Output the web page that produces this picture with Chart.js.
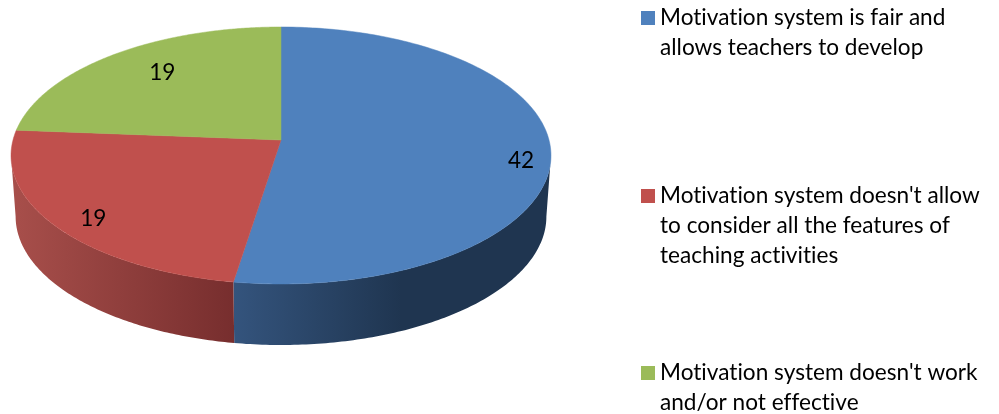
<!DOCTYPE html>
<html>
<head>
<meta charset="utf-8">
<title>Motivation system</title>
<script src="https://cdn.jsdelivr.net/npm/chart.js@4"></script>
<style>
    html, body { margin: 0; padding: 0; background: #fff; }
    canvas { display: block; }
</style>
</head>
<body>
<canvas id="motivationChart" width="999" height="414"></canvas>
<script>
const categories = [
    "Motivation system is fair and allows teachers to develop",
    "Motivation system doesn't allow to consider all the features of teaching activities",
    "Motivation system doesn't work and/or not effective"
];
const legendLines = [
    ["Motivation system is fair and", "allows teachers to develop"],
    ["Motivation system doesn't allow", "to consider all the features of", "teaching activities"],
    ["Motivation system doesn't work", "and/or not effective"]
];
const values = [42, 19, 19];
const sliceColors = ['#4f81bd', '#c0504d', '#9bbb59'];
const wallColors = [
    ['#34547d', '#1f3550', '#1f3550'],
    ['#a84f4b', '#772e2e', '#772e2e'],
    ['#7c9647', '#5c7034', '#5c7034']
];

const fontFamily = 'Lato, "Open Sans", sans-serif';

// the pie lies flat and is seen from the front, so the far half comes out shorter
const tilt = 0.1206;
const flatten = 0.945;
const wallDepth = 61;
const wallShrink = 0.983;
const labelSpots = [
    { reach: 0.89, nudge: 12 },
    { reach: 0.825, nudge: 9 },
    { reach: 0.71, nudge: -7 }
];
const legendTops = [25, 203, 380];

function project(arc, angle, reach) {
    const theta = angle + Math.PI / 2;
    const w = 1 + tilt * Math.cos(theta);
    return {
        x: arc.x + 2 * arc.outerRadius * reach * Math.sin(theta) / w,
        y: arc.y - flatten * arc.outerRadius * reach * Math.cos(theta) / w
    };
}

const pie3d = {
    id: 'pie3d',
    beforeDatasetsDraw(chart) {
        const ctx = chart.ctx;
        const arcs = chart.getDatasetMeta(0).data;
        const frontFrom = Math.acos(-tilt) - Math.PI / 2;
        const frontTo = 2 * Math.PI - Math.acos(-tilt) - Math.PI / 2;

        // side wall, only where a slice faces the viewer
        arcs.forEach((arc, i) => {
            const from = Math.max(arc.startAngle, frontFrom);
            const to = Math.min(arc.endAngle, frontTo);
            if (to <= from) return;
            const steps = 120;
            const cx = arc.x;
            const left = project(arc, to, 1).x;
            const right = project(arc, from, 1).x;
            const grad = ctx.createLinearGradient(left, 0, right, 0);
            grad.addColorStop(0, wallColors[i][0]);
            grad.addColorStop(i === 0 ? 0.53 : 1, wallColors[i][1]);
            grad.addColorStop(1, wallColors[i][2]);
            ctx.beginPath();
            for (let s = 0; s <= steps; s++) {
                const p = project(arc, from + (to - from) * s / steps, 1);
                ctx.lineTo(p.x, p.y);
            }
            for (let s = steps; s >= 0; s--) {
                const p = project(arc, from + (to - from) * s / steps, 1);
                ctx.lineTo(cx + (p.x - cx) * wallShrink, p.y + wallDepth);
            }
            ctx.closePath();
            ctx.fillStyle = grad;
            ctx.fill();
        });

        // top of the pie
        arcs.forEach((arc) => {
            const steps = 200;
            ctx.beginPath();
            ctx.moveTo(arc.x, arc.y);
            for (let s = 0; s <= steps; s++) {
                const p = project(arc, arc.startAngle + (arc.endAngle - arc.startAngle) * s / steps, 1);
                ctx.lineTo(p.x, p.y);
            }
            ctx.closePath();
            ctx.fillStyle = arc.options.backgroundColor;
            ctx.strokeStyle = arc.options.backgroundColor;
            ctx.lineWidth = 0.5;
            ctx.fill();
            ctx.stroke();
        });

        // value labels
        ctx.font = '22.6px ' + fontFamily;
        ctx.letterSpacing = '0.01px'; // keeps Lato from joining "ti"
        ctx.fillStyle = '#000';
        ctx.textAlign = 'center';
        ctx.textBaseline = 'middle';
        arcs.forEach((arc, i) => {
            const p = project(arc, (arc.startAngle + arc.endAngle) / 2, labelSpots[i].reach);
            ctx.fillText(String(values[i]), p.x, p.y + labelSpots[i].nudge);
        });

        // legend, wrapped by hand like the original
        ctx.textAlign = 'left';
        ctx.textBaseline = 'alphabetic';
        legendLines.forEach((lines, i) => {
            ctx.fillStyle = sliceColors[i];
            ctx.fillRect(641, legendTops[i] - 14, 14, 14);
            ctx.fillStyle = '#000';
            lines.forEach((line, n) => {
                ctx.fillText(line, 660, legendTops[i] + n * 30);
            });
        });
        return false;
    }
};

new Chart(document.getElementById('motivationChart'), {
    type: 'pie',
    data: {
        labels: categories,
        datasets: [{
            data: values,
            backgroundColor: sliceColors,
            borderWidth: 0
        }]
    },
    options: {
        responsive: false,
        animation: false,
        layout: { padding: { left: 147, right: 584, top: 6, bottom: 140 } },
        plugins: {
            legend: { display: false },
            tooltip: { enabled: false }
        }
    },
    plugins: [pie3d]
});
</script>
</body>
</html>
